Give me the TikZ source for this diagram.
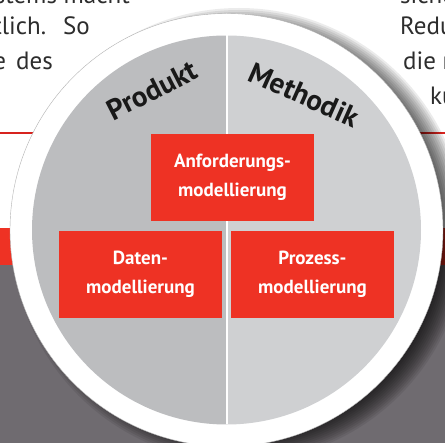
\documentclass[tikz,border=0pt]{standalone}
\usepackage{fontspec}
\setmainfont{PT Sans}
\definecolor{boxred}{RGB}{238,50,36}
\definecolor{linered}{RGB}{215,35,30}
\definecolor{leftgray}{RGB}{188,189,191}
\definecolor{rightgray}{RGB}{207,208,210}
\definecolor{darkbg}{RGB}{111,107,112}
\definecolor{txtgray}{RGB}{45,45,45}
\begin{document}
\begin{tikzpicture}[x=1pt,y=1pt,
  redbox/.style={fill=boxred, minimum width=163pt, minimum height=87pt, inner sep=0pt, text=white, align=center, font=\bfseries\fontsize{19}{28.5}\selectfont},
  bgtext/.style={text=txtgray, font=\fontsize{25}{35}\selectfont, inner sep=0pt},
  arclabel/.style={font=\bfseries\fontsize{29}{32}\selectfont, inner sep=0pt, text=black!90}]
\useasboundingbox (0,0) rectangle (445,-443);
\fill[white] (0,0) rectangle (445,-443);
% background page text
\node[bgtext, anchor=base east] (l0) at (130,-4) {stems macht};
\node[bgtext, anchor=base east] (l1) at (90,-35) {tlich.\hspace{17pt}So};
\node[bgtext, anchor=base east] (l2) at (53,-70) {e\hspace{10pt}des};
\node[bgtext, anchor=base west] (r0) at (400,-4) {sicher};
\node[bgtext, anchor=base west] (r1) at (400,-35) {Redu};
\node[bgtext, anchor=base west] (r2) at (403,-70) {die n};
\node[bgtext, anchor=base west] (r3) at (430,-105) {ku};
% page bands
\draw[linered, line width=1.8pt] (0,-133) -- (445,-133);
\fill[boxred] (0,-228) rectangle (445,-265);
\fill[darkbg] (0,-265) rectangle (445,-443);
% shadow
\foreach \i in {0,...,11} \fill[black, opacity=0.08] (239,-235) circle ({227-2*\i});
% circle
\draw[gray!60, line width=0.4pt, fill=white] (226.5,-230) circle (216.5);
\fill[leftgray] (226.5,-35.5) arc[start angle=90, end angle=270, radius=194.5] -- cycle;
\fill[rightgray] (226.5,-35.5) arc[start angle=90, end angle=-90, radius=194.5] -- cycle;
\draw[white, line width=2pt] (226.5,-35.5) -- (226.5,-424.5);
% boxes
\node[redbox] (anf) at (232.5,-177.5) {Anforderungs-\\modellierung};
\node[redbox] (dat) at (140.5,-274.5) {Daten-\\modellierung};
\node[redbox] (proz) at (312.5,-274.5) {Prozess-\\modellierung};
% labels
\node[arclabel, rotate=27] (prod) at (152,-90) {Produkt};
\node[arclabel, rotate=-24] (meth) at (304,-95) {Methodik};
\end{tikzpicture}
\end{document}
